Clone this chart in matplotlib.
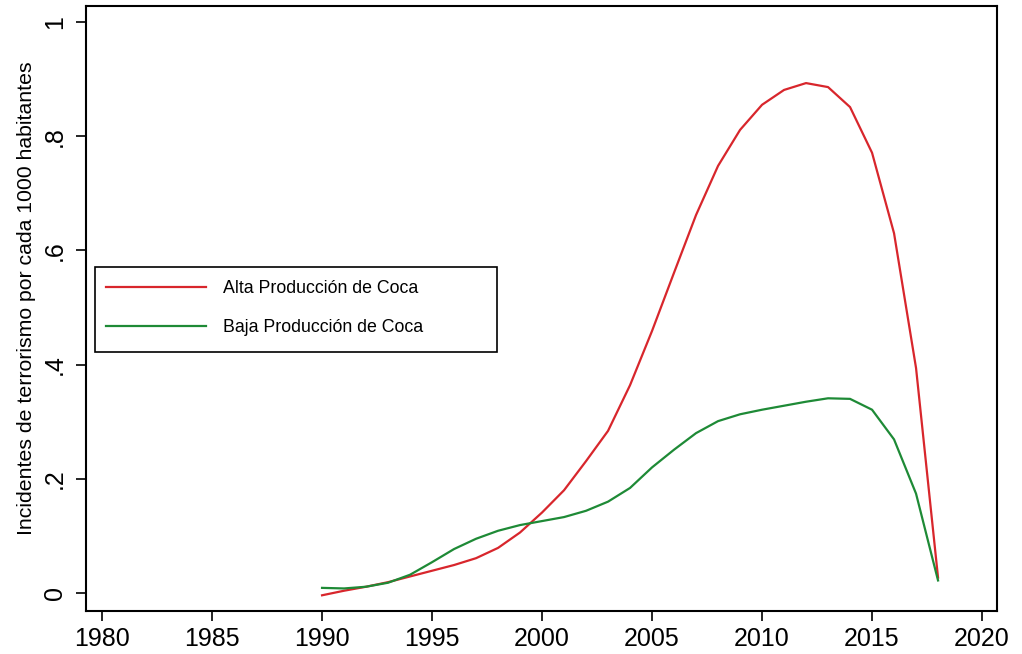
import matplotlib
matplotlib.use("Agg")
import matplotlib.pyplot as plt
from matplotlib.patches import Rectangle

plt.rcParams['font.family'] = ['Liberation Sans', 'DejaVu Sans']

years = list(range(1990, 2019))

# Alta producción de coca
alta = [-0.004, 0.004, 0.011, 0.019, 0.029, 0.039, 0.049, 0.061, 0.079, 0.106,
        0.141, 0.180, 0.231, 0.284, 0.364, 0.459, 0.561, 0.662, 0.748, 0.811,
        0.855, 0.881, 0.893, 0.886, 0.851, 0.771, 0.630, 0.394, 0.027]

# Baja producción de coca
baja = [0.009, 0.008, 0.011, 0.018, 0.032, 0.054, 0.077, 0.095, 0.109, 0.119,
        0.126, 0.133, 0.144, 0.160, 0.184, 0.220, 0.251, 0.280, 0.301, 0.313,
        0.321, 0.328, 0.335, 0.341, 0.340, 0.321, 0.269, 0.174, 0.022]

xticks = [1980, 1985, 1990, 1995, 2000, 2005, 2010, 2015, 2020]
yticks = [0, 0.2, 0.4, 0.6, 0.8, 1.0]
ytick_labels = ['0', '.2', '.4', '.6', '.8', '1']

fig = plt.figure(figsize=(10.22, 6.54), dpi=100)
ax = fig.add_axes([86 / 1022, 43 / 654, 911 / 1022, 605 / 654])

ax.plot(years, alta, color='#d8262c', lw=1.6, label='Alta Producción de Coca')
ax.plot(years, baja, color='#1e8a36', lw=1.6, label='Baja Producción de Coca')

ax.set_xlim(1979.27, 2020.68)
ax.set_ylim(-0.0315, 1.028)
ax.set_xticks(xticks)
ax.set_xticklabels([str(x) for x in xticks], fontsize=18)
ax.set_yticks(yticks)
ax.set_yticklabels(ytick_labels, fontsize=18, rotation=90, va='center')
ax.tick_params(axis='both', direction='out', length=7.5, width=1.2, color='black')
ax.tick_params(axis='x', pad=4)
ax.tick_params(axis='y', pad=6)
for s in ax.spines.values():
    s.set_linewidth(1.5)

ax.set_ylabel('Incidentes de terrorismo por cada 1000 habitantes', fontsize=15.3, labelpad=5)
ax.yaxis.label.set_y(0.5165)

# legend with a fixed-width frame like the original
fig.patches.append(Rectangle((95 / 1022, 1 - 352 / 654), 402 / 1022, 85 / 654,
                             transform=fig.transFigure, fill=False, ec='black', lw=1.2))
fig.legend(loc='upper left', bbox_to_anchor=(90 / 1022, 1 - 264 / 654), frameon=False,
           fontsize=12.8, handlelength=5.6, handletextpad=0.98, labelspacing=1.25)

fig.savefig('out.png', dpi=100)
